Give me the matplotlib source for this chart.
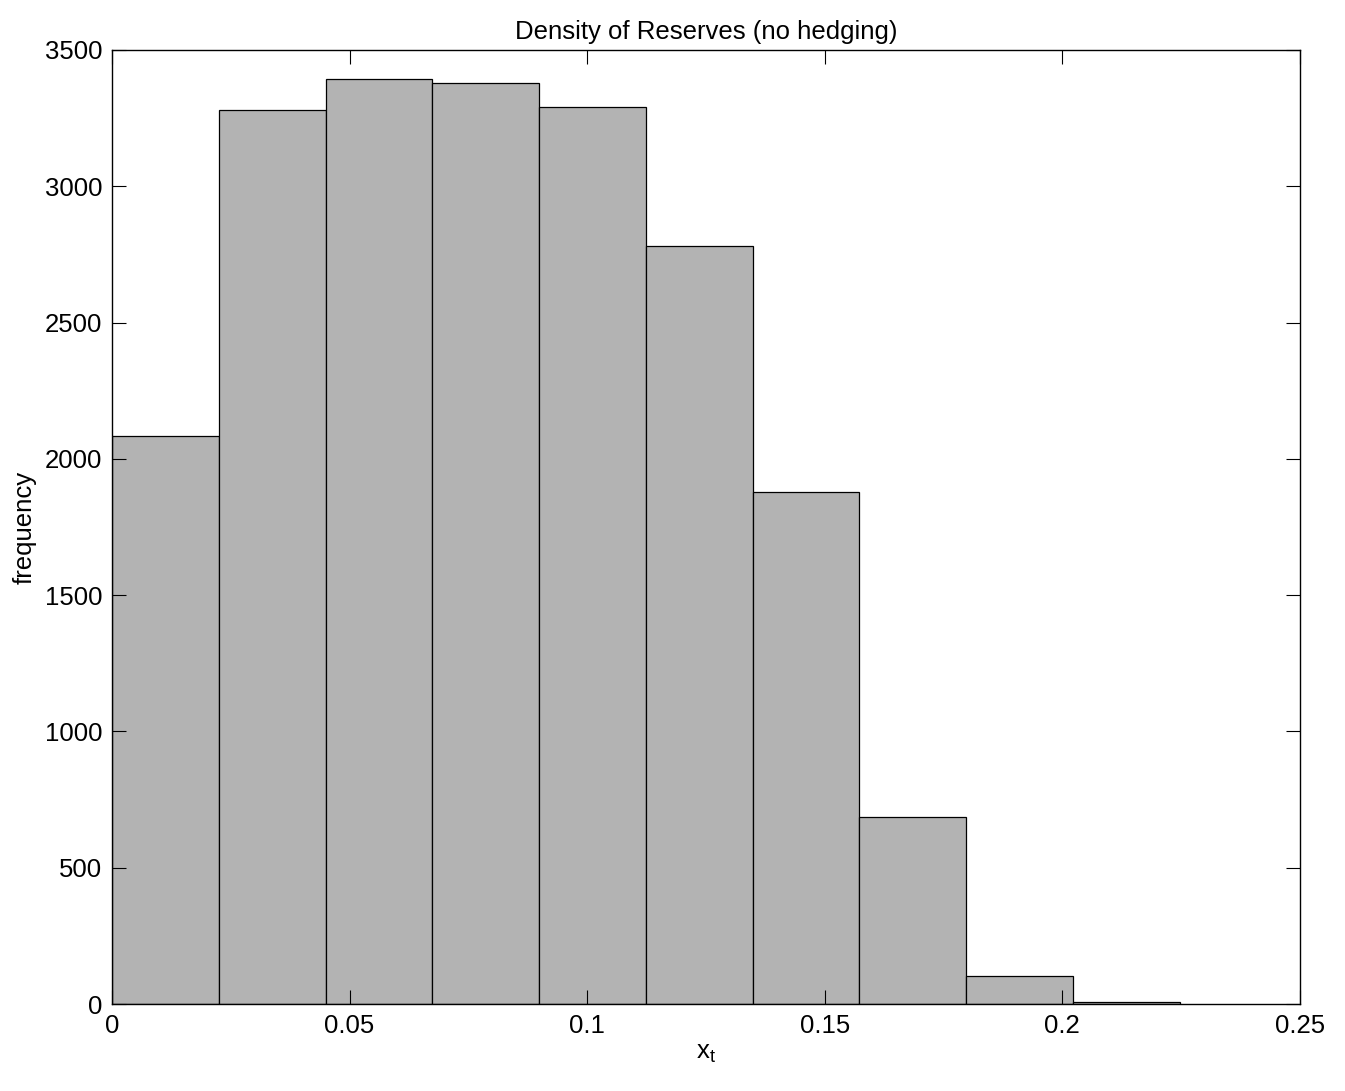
import numpy as np
import matplotlib.pyplot as plt

plt.rcParams['font.family'] = ['Liberation Sans', 'DejaVu Sans']
plt.rcParams['font.size'] = 18.5
plt.rcParams['mathtext.fontset'] = 'custom'
plt.rcParams['mathtext.rm'] = 'Liberation Sans'

# ----------- DATA ------------
bin_lo = 0.0
bin_hi = 0.2247
n_bins = 10
counts = [2085, 3280, 3394, 3379, 3291, 2781, 1878, 686, 103, 7]

edges = np.linspace(bin_lo, bin_hi, n_bins + 1)
centers = (edges[:-1] + edges[1:]) / 2

# ----------- PLOT ------------
fig = plt.figure(figsize=(13.45, 10.91), dpi=100)
ax = fig.add_axes([0.0833, 0.0797, 0.8832, 0.8745])

ax.hist(centers, bins=edges, weights=counts, color='#b3b3b3',
        edgecolor='black', linewidth=0.9)

ax.set_xlim(0, 0.25)
ax.set_ylim(0, 3500)
ax.set_xticks([0, 0.05, 0.1, 0.15, 0.2, 0.25])
ax.set_xticklabels(['0', '0.05', '0.1', '0.15', '0.2', '0.25'])
ax.set_yticks(np.arange(0, 3501, 500))
ax.tick_params(direction='in', length=10, top=True, right=True, width=0.8, pad=7)
for s in ax.spines.values():
    s.set_linewidth(1.0)

ax.set_title('Density of Reserves (no hedging)', fontsize=18.5, pad=8)
ax.set_xlabel('x$_\\mathregular{t}$', fontsize=18.5, labelpad=2)
ax.set_ylabel('frequency', fontsize=18.5, labelpad=6)

fig.savefig('out.png', dpi=100)
